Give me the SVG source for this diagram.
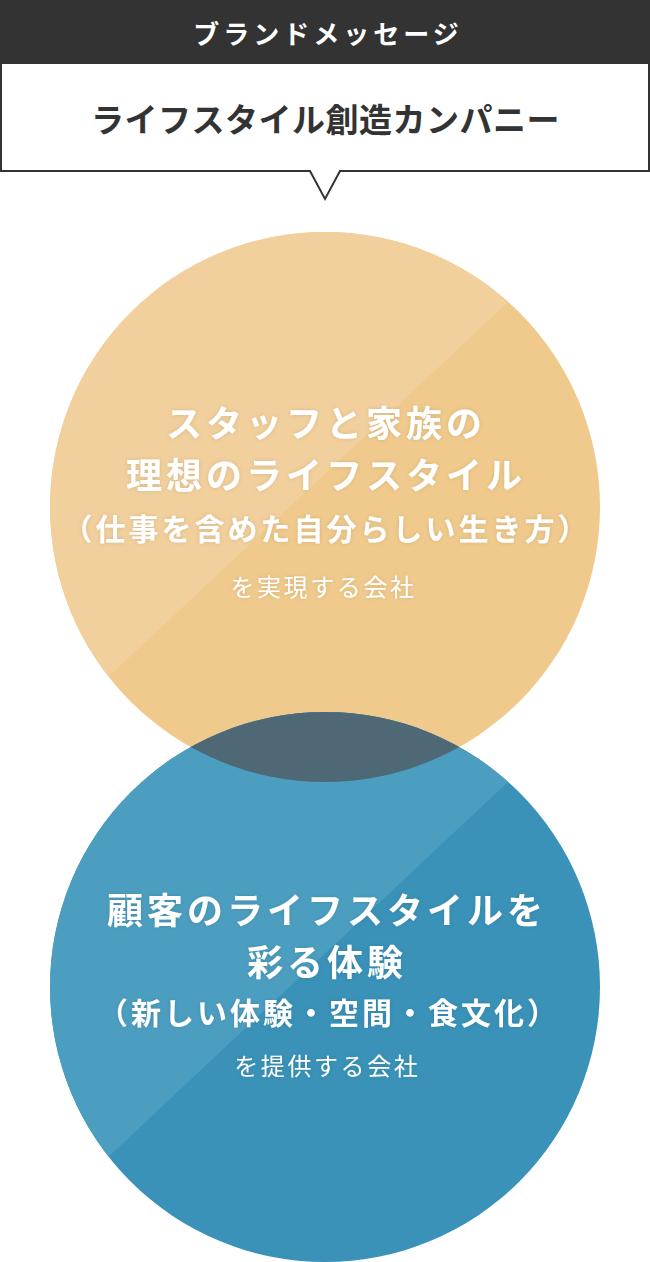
<svg xmlns="http://www.w3.org/2000/svg" width="650" height="1262" viewBox="0 0 650 1262">
  <style>
    .jp { font-family: "Noto Sans CJK JP", "Noto Sans", sans-serif; text-anchor: middle; }
    .hdr { font-size: 26px; font-weight: 700; fill: #ffffff; letter-spacing: 4px; }
    .ttl { font-size: 33px; font-weight: 700; fill: #333333; letter-spacing: 0.5px; }
    .big { font-size: 36px; font-weight: 700; fill: #ffffff; letter-spacing: 4px; }
    .mid { font-size: 30px; font-weight: 700; fill: #ffffff; letter-spacing: 3px; }
    .sml { font-size: 24px; font-weight: 400; fill: #ffffff; letter-spacing: 2.6px; }
    .shd { filter: url(#soft); }
  </style>
  <defs>
    <clipPath id="clipTop"><circle cx="325" cy="507" r="275"/></clipPath>
    <clipPath id="clipBot"><circle cx="325" cy="987" r="275"/></clipPath>
    <filter id="soft" x="-10%" y="-30%" width="120%" height="160%">
      <feDropShadow dx="0" dy="0" stdDeviation="2" flood-color="#000000" flood-opacity="0.12"/>
    </filter>
  </defs>

  <g id="header">
    <rect x="0" y="0" width="650" height="63" fill="#333333"/>
    <text class="jp hdr" x="328" y="44">ブランドメッセージ</text>
  </g>

  <g id="message-box">
    <path d="M1,63 H649 V171 H340 L325,199 L310,171 H1 Z" fill="#ffffff" stroke="#333333" stroke-width="2" stroke-linejoin="miter"/>
    <text class="jp ttl" x="325.5" y="132">ライフスタイル創造カンパニー</text>
  </g>

  <g id="circle-staff">
    <circle cx="325" cy="507" r="275" fill="#f0ca8d"/>
    <polygon clip-path="url(#clipTop)" points="706,116 -89,862 -89,116" fill="#f2d09d"/>
  </g>

  <g id="circle-customer">
    <circle cx="325" cy="987" r="275" fill="#3a92b8"/>
    <polygon clip-path="url(#clipBot)" points="706,596 -89,1342 -89,596" fill="#4c9ec0"/>
  </g>

  <g id="overlap">
    <path clip-path="url(#clipTop)" d="M325,987 m-275,0 a275,275 0 1,0 550,0 a275,275 0 1,0 -550,0 Z" fill="#4f6875"/>
  </g>

  <g id="labels-staff" class="shd">
    <text class="jp big" x="326" y="437">スタッフと家族の</text>
    <text class="jp big" x="326" y="489">理想のライフスタイル</text>
    <text class="jp mid" x="326.5" y="540">（仕事を含めた自分らしい生き方）</text>
    <text class="jp sml" x="323.5" y="596">を実現する会社</text>
  </g>

  <g id="labels-customer" class="shd">
    <text class="jp big" x="327" y="924">顧客のライフスタイルを</text>
    <text class="jp big" x="327" y="976">彩る体験</text>
    <text class="jp mid" x="329" y="1024">（新しい体験・空間・食文化）</text>
    <text class="jp sml" x="327.3" y="1075">を提供する会社</text>
  </g>

  <g id="connectors"></g>
</svg>
